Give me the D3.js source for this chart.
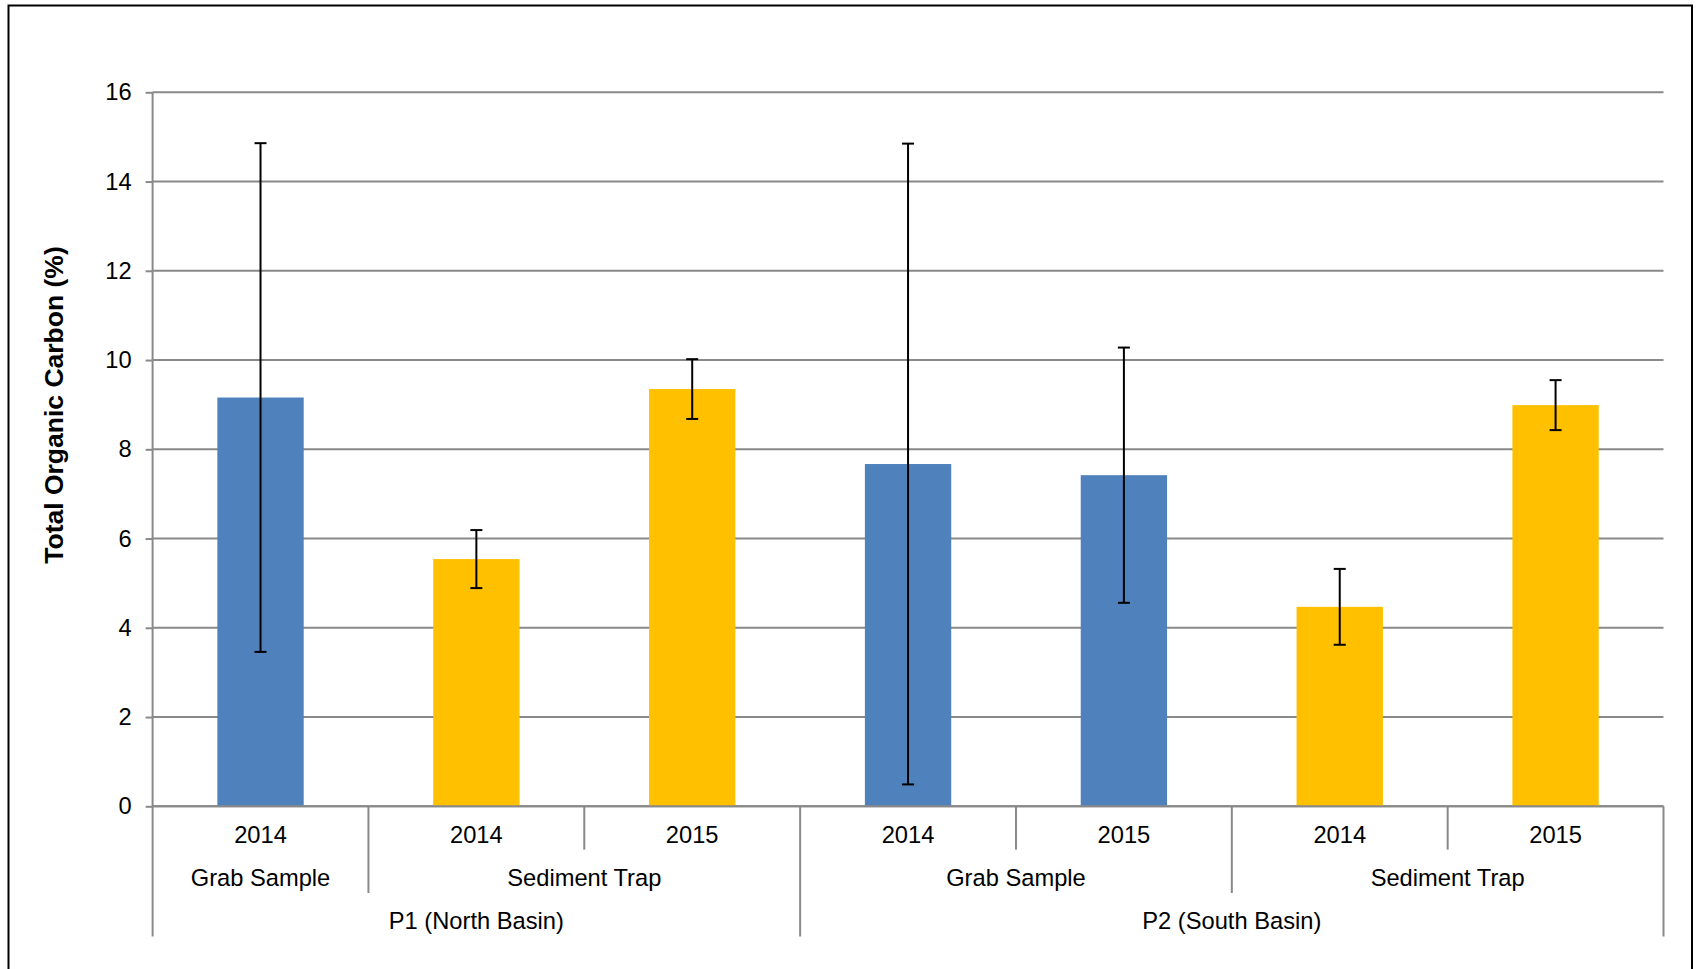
<!DOCTYPE html>
<html>
<head>
<meta charset="utf-8">
<script src="https://cdn.jsdelivr.net/npm/d3@7"></script>
<style>
  html, body { margin: 0; padding: 0; background: #fff; }
  svg { display: block; font-family: "Liberation Sans", Arial, sans-serif; }
</style>
</head>
<body>
<svg id="chart" width="1697" height="969"></svg>
<script>
// ---- data ----
const years = ["2014", "2014", "2015", "2014", "2015", "2014", "2015"];
const sampleTypes = ["Grab Sample", "Sediment Trap", "Sediment Trap", "Grab Sample", "Grab Sample", "Sediment Trap", "Sediment Trap"];
const sites = ["P1 (North Basin)", "P1 (North Basin)", "P1 (North Basin)", "P2 (South Basin)", "P2 (South Basin)", "P2 (South Basin)", "P2 (South Basin)"];
const values = [9.16, 5.54, 9.35, 7.67, 7.42, 4.47, 8.99];
const errors = [5.70, 0.65, 0.67, 7.18, 2.86, 0.85, 0.56];
const yTicks = [0, 2, 4, 6, 8, 10, 12, 14, 16];
const yTitle = "Total Organic Carbon (%)";
const typeColors = { "Grab Sample": "#4F81BD", "Sediment Trap": "#FFC000" };

(function () {
// ---- layout ----
const svg = d3.select("#chart");
const pLeft = 152.6, pRight = 1663.5, pTop = 92.3, pBottom = 806.3;
const gridColor = "#898989";
const fs = 23.7;

const idx = d3.range(values.length);
const x = d3.scaleBand().domain(idx).range([pLeft, pRight]).paddingInner(0.6).paddingOuter(0.3);
const y = d3.scaleLinear().domain([0, 16]).range([pBottom, pTop]);
const step = x.step();

// outer frame
svg.append("rect").attr("x", 8.5).attr("y", 5.5).attr("width", 1683.5).attr("height", 1000)
  .attr("fill", "none").attr("stroke", "#000").attr("stroke-width", 2);

// y axis ticks/labels
const yAxis = d3.axisLeft(y).tickValues(yTicks).tickSize(7).tickPadding(14).tickFormat(d3.format("d"));
const gy = svg.append("g").attr("transform", `translate(${pLeft},0)`).call(yAxis);
gy.select(".domain").remove();
gy.selectAll(".tick line").attr("stroke", gridColor).attr("stroke-width", 2);
gy.selectAll(".tick text").attr("font-size", fs).attr("fill", "#000")
  .attr("font-family", "'Liberation Sans', Arial, sans-serif");

// gridlines
svg.append("g").selectAll("line").data(yTicks).join("line")
  .attr("x1", pLeft).attr("x2", pRight)
  .attr("y1", d => y(d)).attr("y2", d => y(d))
  .attr("stroke", gridColor).attr("stroke-width", 2);

// y axis line
svg.append("line").attr("x1", pLeft).attr("x2", pLeft).attr("y1", pTop).attr("y2", pBottom)
  .attr("stroke", gridColor).attr("stroke-width", 2);

// bars
svg.append("g").selectAll("rect").data(idx).join("rect")
  .attr("x", i => x(i)).attr("width", x.bandwidth())
  .attr("y", i => y(values[i])).attr("height", i => y(0) - y(values[i]))
  .attr("fill", i => typeColors[sampleTypes[i]]);

// x axis line
svg.append("line").attr("x1", pLeft).attr("x2", pRight).attr("y1", pBottom).attr("y2", pBottom)
  .attr("stroke", gridColor).attr("stroke-width", 2);

// error bars
const eb = svg.append("g").attr("stroke", "#000").attr("stroke-width", 2);
idx.forEach(i => {
  const cx = x(i) + x.bandwidth() / 2;
  const hi = y(values[i] + errors[i]), lo = y(values[i] - errors[i]);
  eb.append("line").attr("x1", cx).attr("x2", cx).attr("y1", hi).attr("y2", lo);
  eb.append("line").attr("x1", cx - 6).attr("x2", cx + 6).attr("y1", hi).attr("y2", hi);
  eb.append("line").attr("x1", cx - 6).attr("x2", cx + 6).attr("y1", lo).attr("y2", lo);
});

// multi-level category axis
const rowY = [842.7, 886, 929.3];
const lineEnds = [849.6, 893, 936.5];
const catLeft = i => pLeft + i * step;

function runs(keyFn) {
  const out = [];
  idx.forEach(i => {
    const k = keyFn(i);
    if (out.length && out[out.length - 1].key === k) out[out.length - 1].end = i;
    else out.push({ key: k, start: i, end: i });
  });
  return out;
}
const lvl1 = idx.map(i => ({ start: i, end: i, text: years[i] }));
const lvl2 = runs(i => sites[i] + "|" + sampleTypes[i]).map(r => ({ start: r.start, end: r.end, text: sampleTypes[r.start] }));
const lvl3 = runs(i => sites[i]).map(r => ({ start: r.start, end: r.end, text: sites[r.start] }));
const levels = [lvl1, lvl2, lvl3];

const ax = svg.append("g");
levels.forEach((lv, li) => {
  lv.forEach(g => {
    const cx = (catLeft(g.start) + catLeft(g.end + 1)) / 2;
    ax.append("text").attr("x", cx).attr("y", rowY[li]).attr("text-anchor", "middle")
      .attr("font-size", fs).attr("fill", "#000").text(g.text);
  });
});
const boundaryLevel = b => {
  if (b === 0 || b === values.length) return 2;
  let lvl = 0;
  levels.forEach((lv, li) => { if (lv.some(g => g.start === b)) lvl = li; });
  return lvl;
};
d3.range(values.length + 1).forEach(b => {
  ax.append("line").attr("x1", catLeft(b)).attr("x2", catLeft(b))
    .attr("y1", pBottom).attr("y2", lineEnds[boundaryLevel(b)])
    .attr("stroke", gridColor).attr("stroke-width", 2);
});

// y title
svg.append("text")
  .attr("transform", `translate(62.5,405) rotate(-90)`)
  .attr("text-anchor", "middle").attr("font-size", 26.5).attr("font-weight", "bold")
  .attr("fill", "#000").text(yTitle);
})();
</script>
</body>
</html>
